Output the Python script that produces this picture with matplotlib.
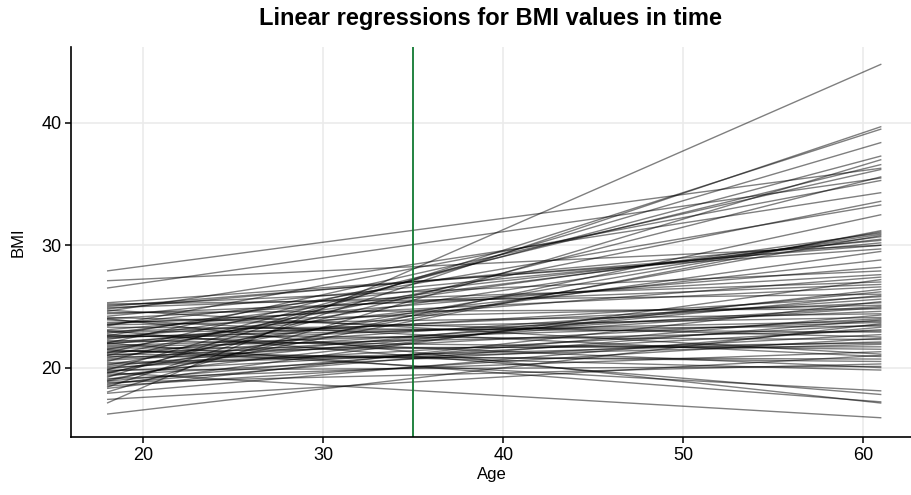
import matplotlib
matplotlib.use("Agg")
import matplotlib.pyplot as plt

plt.rcParams['font.family'] = ['Liberation Sans', 'DejaVu Sans']

# fitted lines, BMI at the youngest and oldest age
age_start = 18
age_end = 61
bmi_start = [
    # steep risers
    17.1, 18.4, 19.2, 19.8, 20.5, 18.0, 21.2, 27.9, 22.0, 19.5, 26.5, 23.4, 24.6, 21.0, 22.6, 18.9,
    # moderate risers
    19.0, 20.2, 21.5, 22.8, 23.5, 24.2, 25.0, 25.3, 20.8, 22.3, 24.8, 21.9, 23.1, 19.6, 25.1, 24.0, 22.5, 27.1,
    # near flat
    18.6, 19.3, 20.1, 21.2, 22.4, 23.7, 24.5, 18.9, 20.6, 21.8, 22.9, 19.7, 23.3, 24.1, 20.4, 21.6, 22.2,
    19.1, 23.9, 20.9, 18.8, 22.7, 21.4, 25.2, 24.4, 19.9, 21.0, 22.0, 23.0, 18.7, 20.0, 21.7, 19.4, 22.6,
    20.3, 24.7, 21.1, 19.8, 23.5, 22.1, 20.7, 18.5, 21.3, 17.9, 17.4, 16.2, 18.3, 24.9, 23.6, 22.5,
    # decliners
    19.6, 22.0, 24.0, 23.0, 21.5,
]
bmi_end = [
    44.8, 39.7, 39.5, 38.4, 37.3, 37.0, 36.6, 36.3, 36.2, 35.6, 35.5, 35.3, 34.3, 33.6, 33.3, 32.5,
    31.2, 31.1, 30.9, 30.7, 30.5, 30.2, 30.0, 29.7, 29.5, 31.0, 30.4, 28.8, 28.2, 30.8, 27.9, 27.6, 27.4, 30.0,
    27.2, 26.4, 26.2, 25.6, 25.3, 25.1, 24.8, 24.3, 24.0, 23.7, 23.4, 23.1, 22.9, 22.5, 22.1, 21.7, 21.5,
    21.3, 20.9, 20.7, 20.3, 20.0, 19.8, 26.0, 26.8, 25.9, 25.0, 24.6, 24.1, 23.9, 23.5, 23.0, 22.7, 22.3,
    21.9, 21.1, 20.5, 20.1, 24.4, 25.8, 24.9, 22.4, 22.0, 23.3, 21.0, 23.6, 25.4, 27.0, 26.6, 23.8,
    15.9, 17.2, 17.1, 17.8, 18.1,
]
cutoff_age = 35

fig = plt.figure(figsize=(9.12, 4.95), dpi=100)
ax = fig.add_axes([71 / 912, 58 / 495, 1 - 71 / 912, 390 / 495])

for b0, b1 in zip(bmi_start, bmi_end):
    ax.plot([age_start, age_end], [b0, b1], color="black", alpha=0.5, lw=1.0,
            solid_capstyle="butt")
ax.axvline(cutoff_age, color="#117a31", lw=1.3)

ax.set_xlim(16.0, 62.7)
ax.set_ylim(14.33, 46.2)
ax.set_xticks([20, 30, 40, 50, 60])
ax.set_yticks([20, 30, 40])
ax.grid(True, color="#ebebeb", lw=1.2)
ax.set_axisbelow(True)
for s in ["top", "right"]:
    ax.spines[s].set_visible(False)
for s in ["left", "bottom"]:
    ax.spines[s].set_linewidth(1.2)
ax.tick_params(labelsize=13, length=4, width=1.1, colors="black", pad=3)

ax.set_xlabel("Age", fontsize=12, labelpad=2)
ax.set_ylabel("BMI", fontsize=12, labelpad=11)
fig.text(491 / 912, 1 - 18 / 495, "Linear regressions for BMI values in time",
         ha="center", va="center", fontsize=17, fontweight="bold")

fig.savefig("out.png", dpi=100)
plt.close(fig)
